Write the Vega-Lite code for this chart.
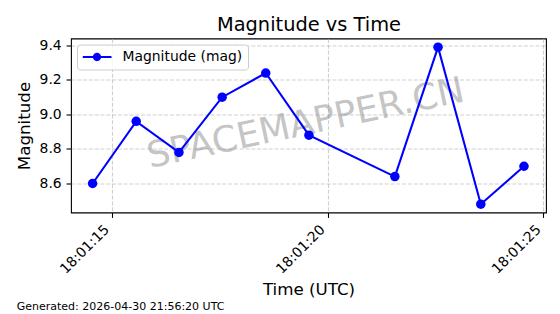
{
  "$schema": "https://vega.github.io/schema/vega-lite/v6.json",
  "width": 475,
  "height": 174,
  "autosize": "none",
  "padding": {"left": 71, "top": 38.5, "right": 14, "bottom": 101.5},
  "background": "white",
  "title": {
    "text": "Generated: 2026-04-30 21:56:20 UTC",
    "orient": "bottom",
    "anchor": "start",
    "frame": "group",
    "dx": -54.3,
    "offset": 3,
    "fontSize": 11,
    "fontWeight": "normal",
    "color": "black",
    "font": "DejaVu Sans"
  },
  "config": {
    "font": "DejaVu Sans",
    "view": {"stroke": "black", "strokeWidth": 1.1}
  },
  "datasets": {
    "obs": [
      {"time": "2026-04-30T18:01:14.560Z", "mag": 8.60, "series": "Magnitude (mag)"},
      {"time": "2026-04-30T18:01:15.570Z", "mag": 8.96, "series": "Magnitude (mag)"},
      {"time": "2026-04-30T18:01:16.560Z", "mag": 8.78, "series": "Magnitude (mag)"},
      {"time": "2026-04-30T18:01:17.560Z", "mag": 9.10, "series": "Magnitude (mag)"},
      {"time": "2026-04-30T18:01:18.570Z", "mag": 9.24, "series": "Magnitude (mag)"},
      {"time": "2026-04-30T18:01:19.570Z", "mag": 8.88, "series": "Magnitude (mag)"},
      {"time": "2026-04-30T18:01:21.560Z", "mag": 8.64, "series": "Magnitude (mag)"},
      {"time": "2026-04-30T18:01:22.560Z", "mag": 9.39, "series": "Magnitude (mag)"},
      {"time": "2026-04-30T18:01:23.550Z", "mag": 8.48, "series": "Magnitude (mag)"},
      {"time": "2026-04-30T18:01:24.550Z", "mag": 8.70, "series": "Magnitude (mag)"}
    ],
    "wm": [
      {"time": "2026-04-30T18:01:19.550Z", "mag": 8.884, "label": "SPACEMAPPER.CN"}
    ]
  },
  "resolve": {"axis": {"x": "independent", "y": "independent"}},
  "layer": [
    {
      "data": {"name": "wm"},
      "mark": {"type": "text", "angle": 348, "fontSize": 36, "font": "DejaVu Sans", "color": "gray", "opacity": 0.45, "align": "center", "baseline": "alphabetic"},
      "encoding": {
        "x": {
          "field": "time", "type": "temporal",
          "scale": {"type": "utc", "domain": [
            {"year": 2026, "month": 4, "date": 30, "hours": 18, "minutes": 1, "seconds": 14, "milliseconds": 60, "utc": true},
            {"year": 2026, "month": 4, "date": 30, "hours": 18, "minutes": 1, "seconds": 25, "milliseconds": 60, "utc": true}
          ]},
          "axis": {
            "orient": "top", "title": "Magnitude vs Time", "labels": false, "ticks": false, "domain": false, "grid": false,
            "titleFontSize": 19.4, "titleFontWeight": "normal", "titleColor": "black", "titleFont": "DejaVu Sans",
            "titleBaseline": "alphabetic", "titleY": -8.5
          }
        },
        "y": {
          "field": "mag", "type": "quantitative",
          "scale": {"domain": [8.432, 9.44], "nice": false, "zero": false},
          "axis": {
            "orient": "left",
            "title": "Magnitude", "values": [8.6, 8.8, 9.0, 9.2, 9.4], "format": ".1f",
            "domain": false, "tickColor": "black", "tickSize": 4.9, "tickWidth": 1.1, "labelPadding": 4.9,
            "labelFontSize": 13.9, "labelColor": "black", "labelFont": "DejaVu Sans",
            "titleFontSize": 16.7, "titleFontWeight": "normal", "titleColor": "black", "titleFont": "DejaVu Sans",
            "titleBaseline": "alphabetic", "titleX": -41.2,
            "grid": true, "gridColor": "#b0b0b0", "gridOpacity": 0.6, "gridDash": [4, 1.8], "gridWidth": 1.1
          }
        },
        "text": {"field": "label"}
      }
    },
    {
      "data": {"name": "obs"},
      "mark": {"type": "line", "strokeWidth": 2.1},
      "encoding": {
        "x": {
          "field": "time", "type": "temporal",
          "axis": {
            "orient": "bottom",
            "title": "Time (UTC)", "format": "%H:%M:%S",
            "values": [
              {"year": 2026, "month": 4, "date": 30, "hours": 18, "minutes": 1, "seconds": 15, "utc": true},
              {"year": 2026, "month": 4, "date": 30, "hours": 18, "minutes": 1, "seconds": 20, "utc": true},
              {"year": 2026, "month": 4, "date": 30, "hours": 18, "minutes": 1, "seconds": 25, "utc": true}
            ],
            "labelAngle": -45, "labelAlign": "right", "labelBaseline": "middle", "labelPadding": 9.7, "labelOffset": -5,
            "labelLimit": 0, "labelFlush": false, "labelOverlap": false,
            "labelFontSize": 13.9, "labelColor": "black", "labelFont": "DejaVu Sans",
            "domain": false, "tickColor": "black", "tickSize": 4.9, "tickWidth": 1.1,
            "grid": true, "gridColor": "#b0b0b0", "gridOpacity": 0.6, "gridDash": [4, 1.8], "gridWidth": 1.1,
            "titleFontSize": 16.7, "titleFontWeight": "normal", "titleColor": "black", "titleFont": "DejaVu Sans",
            "titleBaseline": "alphabetic", "titleY": 81.5
          }
        },
        "y": {"field": "mag", "type": "quantitative", "axis": null},
        "color": {
          "field": "series", "type": "nominal",
          "scale": {"range": ["#0000ff"]},
          "legend": {
            "title": null, "orient": "top-left", "offset": 6, "padding": 5.5,
            "fillColor": "rgba(255,255,255,0.8)", "strokeColor": "#cccccc", "cornerRadius": 3,
            "labelFontSize": 13.9, "labelFont": "DejaVu Sans", "labelColor": "black", "labelOffset": 11,
            "symbolType": "M-1,-0.072H1V0.072H-1Z M0.287,0C0.287,0.1585 0.1585,0.287 0,0.287C-0.1585,0.287 -0.287,0.1585 -0.287,0C-0.287,-0.1585 -0.1585,-0.287 0,-0.287C0.1585,-0.287 0.287,-0.1585 0.287,0Z",
            "symbolSize": 841, "symbolFillColor": "#0000ff", "symbolStrokeWidth": 0, "clipHeight": 14,
            "encode": {"symbols": {"update": {
              "fill": {"value": "#0000ff"}, "stroke": {"value": "transparent"}, "strokeWidth": {"value": 0}, "opacity": {"value": 1},
              "shape": {"value": "M-1,-0.072H1V0.072H-1Z M0.287,0C0.287,0.1585 0.1585,0.287 0,0.287C-0.1585,0.287 -0.287,0.1585 -0.287,0C-0.287,-0.1585 -0.1585,-0.287 0,-0.287C0.1585,-0.287 0.287,-0.1585 0.287,0Z"}
            }}}
          }
        }
      }
    },
    {
      "data": {"name": "obs"},
      "mark": {"type": "point", "filled": true, "size": 90, "opacity": 1},
      "encoding": {
        "x": {"field": "time", "type": "temporal", "axis": null},
        "y": {"field": "mag", "type": "quantitative", "axis": null},
        "color": {"field": "series", "type": "nominal"}
      }
    }
  ]
}
